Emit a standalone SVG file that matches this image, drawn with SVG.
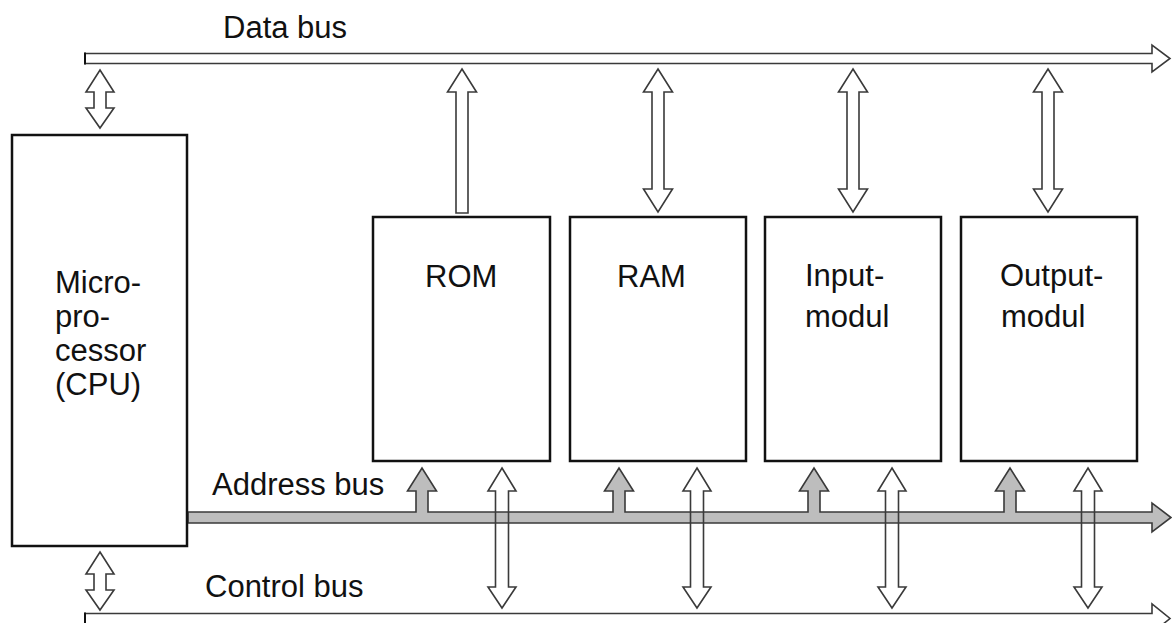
<svg xmlns="http://www.w3.org/2000/svg" width="1172" height="623" viewBox="0 0 1172 623">
  <style>
    .box { fill: #ffffff; stroke: #111111; stroke-width: 2.5; }
    .hollow { fill: #ffffff; stroke: #3a3a3a; stroke-width: 1.6; stroke-linejoin: miter; }
    .outline { fill: none; stroke: #3a3a3a; stroke-width: 1.6; }
    .whitefill { fill: #ffffff; stroke: none; }
    .gray { fill: #bdbdbd; stroke: #3a3a3a; stroke-width: 1.6; }
    .end { stroke: #111111; stroke-width: 2; }
    .label { font-family: "Liberation Sans", Arial, sans-serif; font-size: 31px; fill: #111111; }
  </style>
  <defs>
    <!-- bidirectional hollow arrow between data bus and a module, origin at top tip -->
    <path id="dataArrow2" d="M0,0 L14.5,23 H6 V120 H14.5 L0,143 L-14.5,120 H-6 V23 H-14.5 Z"/>
    <!-- module-to-bus hollow arrow (read only), origin at top tip -->
    <path id="dataArrow1" d="M0,0 L14.5,23 H6 V144 H-6 V23 H-14.5 Z"/>
    <!-- control line arrow crossing the address bus, origin at top tip -->
    <path id="ctrlArrow" d="M0,0 L14,23 H6.5 V119 H14 L0,140 L-14,119 H-6.5 V23 H-14 Z"/>
    <!-- short CPU bus arrow, origin at top tip -->
    <path id="cpuArrow" d="M0,0 L14,22 H6 V38 H14 L0,58 L-14,38 H-6 V22 H-14 Z"/>
  </defs>

  <!-- Bus lines and connectors -->
  <g id="connectors">
    <!-- data bus -->
    <path class="hollow" d="M85,53.5 H1152 V45 L1170,58.5 L1152,72 V63.5 H85 Z"/>
    <line class="end" x1="85" y1="52.5" x2="85" y2="64.5"/>
    <!-- control bus -->
    <path class="hollow" d="M85,613.5 H1152 V604 L1170,618.5 L1152,633 V624 H85 Z"/>
    <line class="end" x1="85" y1="612.5" x2="85" y2="623"/>

    <!-- CPU to data bus and to control bus -->
    <use href="#cpuArrow" class="hollow" x="100" y="70"/>
    <use href="#cpuArrow" class="hollow" x="100" y="552"/>

    <!-- data bus to modules -->
    <use href="#dataArrow1" class="hollow" x="462" y="69"/>
    <use href="#dataArrow2" class="hollow" x="658" y="69"/>
    <use href="#dataArrow2" class="hollow" x="853" y="69"/>
    <use href="#dataArrow2" class="hollow" x="1048" y="69"/>

    <!-- control arrows: white body under the address bus, outline on top -->
    <use href="#ctrlArrow" class="whitefill" x="502" y="468"/>
    <use href="#ctrlArrow" class="whitefill" x="697" y="468"/>
    <use href="#ctrlArrow" class="whitefill" x="892" y="468"/>
    <use href="#ctrlArrow" class="whitefill" x="1088" y="468"/>

    <!-- address bus with its branches up to the modules -->
    <path class="gray" d="M188,512 H416 V491 H407.5 L422,468 L436.5,491 H428 V512 H613 V491 H604.5 L619,468 L633.5,491 H625 V512 H808 V491 H799.5 L814,468 L828.5,491 H820 V512 H1004 V491 H995.5 L1010,468 L1024.5,491 H1016 V512 H1152 V503 L1171,517.5 L1152,532 V523 H188 Z"/>

    <use href="#ctrlArrow" class="outline" x="502" y="468"/>
    <use href="#ctrlArrow" class="outline" x="697" y="468"/>
    <use href="#ctrlArrow" class="outline" x="892" y="468"/>
    <use href="#ctrlArrow" class="outline" x="1088" y="468"/>

    <text class="label" x="223" y="38">Data bus</text>
    <text class="label" x="212" y="495">Address bus</text>
    <text class="label" x="205" y="597">Control bus</text>
  </g>

  <g id="cpu">
    <rect class="box" x="12" y="135" width="175" height="411"/>
    <text class="label" x="55" y="293">Micro-</text>
    <text class="label" x="55" y="327">pro-</text>
    <text class="label" x="55" y="361">cessor</text>
    <text class="label" x="55" y="395">(CPU)</text>
  </g>

  <g id="rom">
    <rect class="box" x="373" y="217" width="177" height="244"/>
    <text class="label" x="425" y="287">ROM</text>
  </g>

  <g id="ram">
    <rect class="box" x="570" y="217" width="176" height="244"/>
    <text class="label" x="617" y="287">RAM</text>
  </g>

  <g id="input-module">
    <rect class="box" x="765" y="217" width="176" height="244"/>
    <text class="label" x="805" y="286">Input-</text>
    <text class="label" x="805" y="327">modul</text>
  </g>

  <g id="output-module">
    <rect class="box" x="961" y="217" width="176" height="244"/>
    <text class="label" x="1000" y="286">Output-</text>
    <text class="label" x="1001" y="327">modul</text>
  </g>
</svg>
